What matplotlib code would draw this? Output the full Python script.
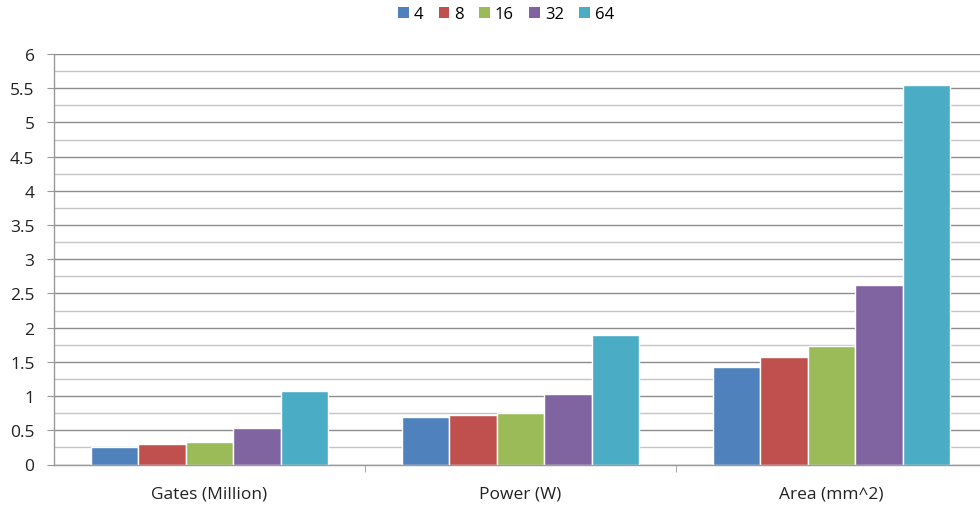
import numpy as np
import matplotlib
matplotlib.use("Agg")
import matplotlib.pyplot as plt
from matplotlib.ticker import MultipleLocator, FixedLocator, NullFormatter

categories = ["Gates (Million)", "Power (W)", "Area (mm^2)"]
series_names = ["4", "8", "16", "32", "64"]
values = {
    "4": [0.26, 0.70, 1.43],
    "8": [0.295, 0.73, 1.57],
    "16": [0.33, 0.76, 1.73],
    "32": [0.53, 1.03, 2.62],
    "64": [1.08, 1.90, 5.55],
}
colors = ["#4F81BD", "#C0504D", "#9BBB59", "#8064A2", "#4BACC6"]

plt.rcParams['font.family'] = ['Open Sans', 'DejaVu Sans']

W, H = 980, 506
fig = plt.figure(figsize=(W / 100, H / 100), dpi=100)
# plot area in pixels: left 54, right 987, top 55, bottom 465.5
left, right, top, bottom = 54, 987, 55, 465.5
ax = fig.add_axes([left / W, 1 - bottom / H, (right - left) / W, (bottom - top) / H])

x = np.arange(len(categories))
bw = 0.153
n = len(series_names)
for i, name in enumerate(series_names):
    offs = (i - (n - 1) / 2) * bw
    ax.bar(x + offs, values[name], width=bw, color=colors[i], edgecolor="white",
           linewidth=1.0, label=name, zorder=3)

ax.set_xlim(-0.5, 2.5)
ax.set_ylim(0, 6)

ax.yaxis.set_major_locator(MultipleLocator(0.5))
ax.yaxis.set_minor_locator(MultipleLocator(0.25))
ax.yaxis.set_major_formatter(plt.FuncFormatter(lambda v, p: f"{v:g}"))
ax.grid(axis="y", which="major", color="#8c8c8c", linewidth=1.0, zorder=0)
ax.grid(axis="y", which="minor", color="#c4c4c4", linewidth=1.0, zorder=0)

ax.set_xticks(x)
ax.set_xticklabels(categories)
ax.xaxis.set_minor_locator(FixedLocator([0.5, 1.5]))
ax.xaxis.set_minor_formatter(NullFormatter())
ax.tick_params(axis="x", which="major", length=0, pad=15, labelsize=12.5, colors="#222222")
ax.tick_params(axis="x", which="minor", length=5, color="#999999", direction="out")
ax.tick_params(axis="y", which="major", length=5, color="#999999", labelsize=12.5,
               labelcolor="#222222", pad=9)
ax.tick_params(axis="y", which="minor", length=0)

for s in ["top", "right"]:
    ax.spines[s].set_visible(False)
for s in ["left", "bottom"]:
    ax.spines[s].set_color("#999999")
    ax.spines[s].set_linewidth(1.0)
ax.spines["bottom"].set_zorder(4)

leg = fig.legend(loc="center", bbox_to_anchor=(506 / W, 1 - 15 / H), ncol=5, frameon=False,
                 fontsize=12, handlelength=0.65, handleheight=0.65, handletextpad=0.3,
                 columnspacing=0.9)
for h in leg.legend_handles:
    h.set_edgecolor("none")

fig.savefig("out.png", dpi=100)
